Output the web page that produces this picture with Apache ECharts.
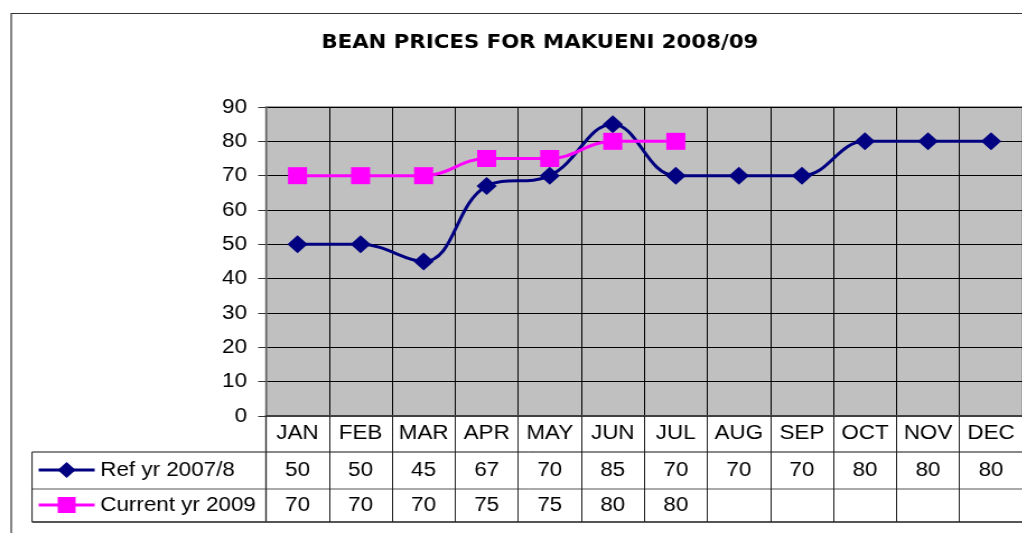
<!DOCTYPE html>
<html><head><meta charset="utf-8">
<script src="https://cdn.jsdelivr.net/npm/echarts@6/dist/echarts.min.js"></script>
<style>
html,body{margin:0;padding:0;background:#fff;overflow:hidden;}
#wrap{width:1022px;height:533px;overflow:hidden;position:relative;}
#chart{width:913px;height:533px;transform:scaleX(1.12);transform-origin:0 0;}
</style></head><body>
<div id="wrap"><div id="chart"></div></div>
<script>
const chartTitle = 'BEAN PRICES FOR MAKUENI 2008/09';
const months = ['JAN','FEB','MAR','APR','MAY','JUN','JUL','AUG','SEP','OCT','NOV','DEC'];
const refName = 'Ref yr 2007/8';
const refValues = [50, 50, 45, 67, 70, 85, 70, 70, 70, 80, 80, 80];
const currentName = 'Current yr 2009';
const currentValues = [70, 70, 70, 75, 75, 80, 80, null, null, null, null, null];
const yMin = 0, yMax = 90, yStep = 10;

const FONT = 'Liberation Sans, Arial, sans-serif';
const chart = echarts.init(document.getElementById('chart'), null, {renderer: 'canvas'});

const GL = 237.5, GT = 107, GW = 676, GH = 309;
const lineColor = '#000';

function hLine(x1, x2, y, color, w) {
  return {type: 'line', silent: true, shape: {x1: x1, y1: y, x2: x2, y2: y}, style: {stroke: color, lineWidth: w}};
}
function vLine(x, y1, y2, color, w) {
  return {type: 'line', silent: true, shape: {x1: x, y1: y1, x2: x, y2: y2}, style: {stroke: color, lineWidth: w}};
}

const valueAxisCommon = {
  type: 'category', gridIndex: 0, position: 'bottom', data: months, boundaryGap: true,
  axisLine: {show: false}, axisTick: {show: false}, splitLine: {show: false}
};

chart.setOption({
  animation: false,
  backgroundColor: '#fff',
  title: {
    text: chartTitle, left: 482, top: 34, textAlign: 'center', padding: 0,
    textStyle: {fontFamily: 'DejaVu Sans, sans-serif', fontWeight: 'bold', fontSize: 19, color: '#000'}
  },
  legend: {
    orient: 'vertical', left: 33, top: 460, padding: 0, itemGap: 15,
    itemWidth: 50, itemHeight: 20, selectedMode: false,
    lineStyle: {width: 3},
    data: [refName, currentName],
    textStyle: {fontFamily: FONT, fontSize: 20, color: '#000', padding: [0, 0, 0, 0]}
  },
  grid: {
    left: GL, top: GT, width: GW, height: GH, containLabel: false,
    show: true, backgroundColor: '#C0C0C0', borderColor: '#808080', borderWidth: 1.5
  },
  xAxis: [
    {
      type: 'category', gridIndex: 0, position: 'bottom', data: months, boundaryGap: true,
      axisLine: {show: true, lineStyle: {color: '#404040', width: 2}},
      axisTick: {show: true, interval: 0, length: 106, lineStyle: {color: '#222', width: 1}},
      splitLine: {show: true, interval: 0, lineStyle: {color: lineColor, width: 1}},
      axisLabel: {interval: 0, margin: 7, fontFamily: FONT, fontSize: 20, color: '#000'}
    },
    Object.assign({}, valueAxisCommon, {
      axisLabel: {interval: 0, margin: 44.5, fontFamily: FONT, fontSize: 20, color: '#000',
        formatter: (v, i) => refValues[i] == null ? '' : String(refValues[i])}
    }),
    Object.assign({}, valueAxisCommon, {
      axisLabel: {interval: 0, margin: 79.5, fontFamily: FONT, fontSize: 20, color: '#000',
        formatter: (v, i) => currentValues[i] == null ? '' : String(currentValues[i])}
    })
  ],
  yAxis: {
    type: 'value', min: yMin, max: yMax, interval: yStep,
    axisLine: {show: true, lineStyle: {color: '#808080', width: 1.5}},
    axisTick: {show: true, length: 7, lineStyle: {color: '#333', width: 1}},
    splitLine: {show: true, lineStyle: {color: lineColor, width: 1}},
    axisLabel: {margin: 17, fontFamily: FONT, fontSize: 20, color: '#000'}
  },
  series: [
    {
      name: refName, type: 'line', data: refValues, xAxisIndex: 0, smooth: 0.4,
      symbol: 'diamond', symbolSize: [18, 18], showAllSymbol: true,
      lineStyle: {color: '#000080', width: 3}, itemStyle: {color: '#000080'}, z: 3
    },
    {
      name: currentName, type: 'line', data: currentValues, xAxisIndex: 0, smooth: 0.4,
      symbol: 'rect', symbolSize: [17, 17], showAllSymbol: true,
      lineStyle: {color: '#FF00FF', width: 3}, itemStyle: {color: '#FF00FF'}, z: 4
    }
  ],
  graphic: [
    {type: 'rect', silent: true, shape: {x: 10, y: 13.5, width: 2000, height: 2000},
     style: {fill: null, stroke: '#333', lineWidth: 1.2}, z: -1},
    hLine(28.6, 920, 452, '#111', 1),
    hLine(28.6, 920, 489, '#555', 1),
    hLine(28.6, 920, 522, '#555', 2),
    vLine(28.6, 452, 522, '#111', 1),
    vLine(GL, 416, 522, '#666', 1.5)
  ]
});
</script>
</body></html>
